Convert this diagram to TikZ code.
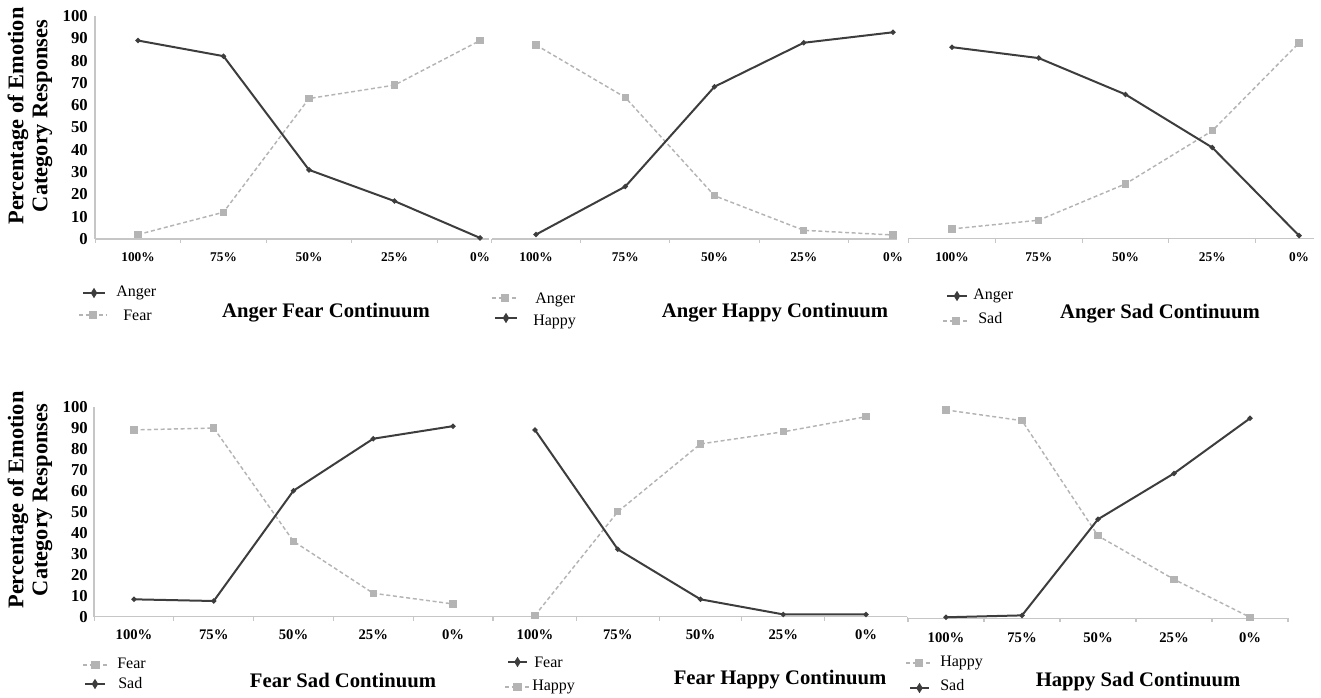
\documentclass[tikz,border=0pt]{standalone}
\usepackage{fontspec}
\setmainfont{Liberation Serif}
\usepackage{tikz}
\usetikzlibrary{shapes.geometric,positioning}
\usetikzlibrary{calc}
\definecolor{darkser}{HTML}{3D3D3D}
\definecolor{lightser}{HTML}{B4B4B4}
\definecolor{axisgray}{HTML}{C6C6C6}
% one data series: style, marker, prefix, step, scale, values
\newcommand{\emoseries}[6]{%
  \foreach \v [count=\i] in {#6}
    \coordinate (#3\i) at ({(\i-1)*#4},{-\v*#5});
  \draw[#1] (#31) -- (#32) -- (#33) -- (#34) -- (#35);
  \foreach \i in {1,...,5}
    \node[#2] (#3m\i) at (#3\i) {};
}
% category axis: prefix, step, left, right, last tick, label offset, label style
\newcommand{\catsaxis}[7]{%
  \draw[axisline] (#3,0) -- (#4,0);
  \foreach \k in {0,...,#5}
    \draw[axisline] ({(\k-0.5)*#2},0) -- ++(0,4);
  \foreach \t [count=\i] in {100\%,75\%,50\%,25\%,0\%}
    \node[#7] (#1c\i) at ({(\i-1)*#2},#6) {\t};
}
% value axis: prefix, x, zero, scale
\newcommand{\valaxis}[4]{%
  \draw[axisline] (#2,#3) -- (#2,{#3-100*#4});
  \foreach \v in {0,10,...,100}
    \node[ytick] (#1\v) at (88,{#3-\v*#4}) {\v};
}
% legend key: line style, marker, name, x1, x2, y
\newcommand{\legkey}[6]{%
  \coordinate (#3l) at (#4,#6);
  \coordinate (#3r) at (#5,#6);
  \draw[#1] (#3l) -- (#3r);
  \node[#2] (#3m) at ($(#3l)!0.5!(#3r)$) {};
}

\begin{document}
\begin{tikzpicture}
  [
    x=0.75pt, y=-0.75pt,
    axisline/.style={draw=axisgray, line width=0.8pt},
    darkline/.style={draw=darkser, line width=1.5pt, line join=round},
    lightline/.style={draw=lightser, line width=1.1pt, dash pattern=on 3pt off 2pt},
    darkpt/.style={diamond, fill=darkser, inner sep=0pt, minimum size=4.5pt},
    lightpt/.style={rectangle, fill=lightser, inner sep=0pt, minimum size=5.5pt},
    legdark/.style={draw=darkser, line width=2.2pt},
    leglight/.style={draw=lightser, line width=1.3pt, dash pattern=on 3pt off 2pt},
    legdarkpt/.style={diamond, fill=darkser, inner sep=0pt, minimum width=5pt, minimum height=8pt},
    leglightpt/.style={rectangle, fill=lightser, inner sep=0pt, minimum size=6.5pt},
    ytick/.style={font=\bfseries\fontsize{12.5}{14}\selectfont, anchor=east, inner sep=0pt},
    xtick/.style={font=\bfseries\fontsize{10}{11}\selectfont, inner sep=0pt},
    xticklow/.style={font=\bfseries\fontsize{11}{12}\selectfont, inner sep=0pt},
    legtext/.style={font=\fontsize{12}{13}\selectfont, anchor=west, inner sep=0pt},
    paneltitle/.style={font=\bfseries\fontsize{15.5}{17}\selectfont, inner sep=0pt},
    ytitle/.style={font=\bfseries\fontsize{16.8}{18}\selectfont, align=center, rotate=90, inner sep=0pt}
  ]
  \useasboundingbox (0,0) rectangle (1321,697);

  % Value axes
  \valaxis{ta}{95}{239}{2.23}
  \valaxis{ba}{94}{616.7}{2.094}
  \node[ytitle] (ytop) at (30,116) {Percentage of Emotion\\Category Responses};
  \node[ytitle] (ybot) at (30,500) {Percentage of Emotion\\Category Responses};

  % Anger Fear
  \begin{scope}[shift={(138,239)}]
    \catsaxis{af}{85.5}{-43}{351}{4}{18}{xtick}
    \emoseries{lightline}{lightpt}{aff}{85.5}{2.23}{2,12,63,69,89}
    \emoseries{darkline}{darkpt}{afa}{85.5}{2.23}{89,82,31,17,0.5}
  \end{scope}
  \legkey{legdark}{legdarkpt}{kafa}{83}{105}{293}
  \legkey{leglight}{leglightpt}{kaff}{79}{107}{315}
  \node[legtext] (tafa) at (116,293) {Anger};
  \node[legtext] (taff) at (123,315) {Fear};
  \node[paneltitle] (haf) at (326,313) {Anger Fear Continuum};

  % Anger Happy
  \begin{scope}[shift={(536,239)}]
    \catsaxis{ah}{89.25}{-44}{361}{4}{18}{xtick}
    \emoseries{lightline}{lightpt}{aha}{89.25}{2.23}{87,63.5,19.4,3.9,1.8}
    \emoseries{darkline}{darkpt}{ahh}{89.25}{2.23}{2,23.5,68.3,88,92.7}
  \end{scope}
  \legkey{leglight}{leglightpt}{kaha}{492}{518}{298}
  \legkey{legdark}{legdarkpt}{kahh}{495}{517}{318}
  \node[legtext] (taha) at (535,300) {Anger};
  \node[legtext] (tahh) at (533,322) {Happy};
  \node[paneltitle] (hah) at (775,313) {Anger Happy Continuum};

  % Anger Sad
  \begin{scope}[shift={(952,238.5)}]
    \catsaxis{as}{86.75}{-44}{362}{4}{18.5}{xtick}
    \emoseries{lightline}{lightpt}{ass}{86.75}{2.23}{4.3,8.2,24.5,48.3,87.7}
    \emoseries{darkline}{darkpt}{asa}{86.75}{2.23}{85.8,80.9,64.6,40.8,1.3}
  \end{scope}
  \legkey{legdark}{legdarkpt}{kasa}{947}{967}{296}
  \legkey{leglight}{leglightpt}{kass}{943}{969}{321}
  \node[legtext] (tasa) at (973,296) {Anger};
  \node[legtext] (tass) at (978,318) {Sad};
  \node[paneltitle] (has) at (1160,314) {Anger Sad Continuum};

  % Fear Sad
  \begin{scope}[shift={(134,616.7)}]
    \catsaxis{fs}{79.75}{-40}{366}{5}{18.3}{xticklow}
    \emoseries{lightline}{lightpt}{fsf}{79.75}{2.094}{89.2,90.1,36,11.2,6.1}
    \emoseries{darkline}{darkpt}{fss}{79.75}{2.094}{8.3,7.5,60.2,85,91}
  \end{scope}
  \legkey{leglight}{leglightpt}{kfsf}{83}{108}{665}
  \legkey{legdark}{legdarkpt}{kfss}{85}{105}{684}
  \node[legtext] (tfsf) at (117,663) {Fear};
  \node[legtext] (tfss) at (118,683) {Sad};
  \node[paneltitle] (hfs) at (343,680) {Fear Sad Continuum};

  % Fear Happy
  \begin{scope}[shift={(535,616.7)}]
    \catsaxis{fh}{82.75}{-50}{372}{5}{18.3}{xticklow}
    \emoseries{lightline}{lightpt}{fhh}{82.75}{2.094}{0.6,50.1,82.5,88.3,95.5}
    \emoseries{darkline}{darkpt}{fhf}{82.75}{2.094}{89.2,32.2,8.3,1.1,1.1}
  \end{scope}
  \legkey{legdark}{legdarkpt}{kfhf}{508}{527}{662}
  \legkey{leglight}{leglightpt}{kfhh}{505}{530}{687}
  \node[legtext] (tfhf) at (534,662) {Fear};
  \node[legtext] (tfhh) at (532,687) {Happy};
  \node[paneltitle] (hfh) at (780,680) {Fear Happy Continuum};

  % Happy Sad
  \begin{scope}[shift={(946,618.3)}]
    \catsaxis{hs}{76}{-39}{342}{5}{19.7}{xticklow}
    \emoseries{lightline}{lightpt}{hsh}{76}{2.094}{99.5,94.4,39.4,18.6,0.5}
    \emoseries{darkline}{darkpt}{hss}{76}{2.094}{0.5,1.4,47.3,69.2,95.5}
  \end{scope}
  \legkey{leglight}{leglightpt}{khsh}{906}{932}{663}
  \legkey{legdark}{legdarkpt}{khss}{910}{929}{688}
  \node[legtext] (thsh) at (940,663) {Happy};
  \node[legtext] (thss) at (940,685) {Sad};
  \node[paneltitle] (hhs) at (1138,682) {Happy Sad Continuum};
\end{tikzpicture}
\end{document}
